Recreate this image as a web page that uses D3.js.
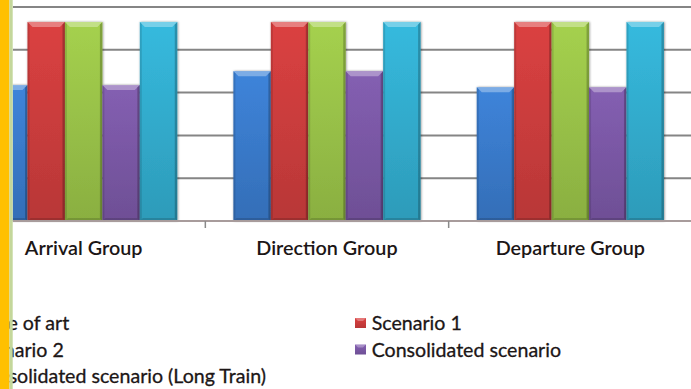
<!DOCTYPE html>
<html>
<head>
<meta charset="utf-8">
<script src="https://cdn.jsdelivr.net/npm/d3@7/dist/d3.min.js"></script>
<style>
  html, body { margin: 0; padding: 0; background: #fff; }
  svg { display: block; }
</style>
</head>
<body>
<script>
// Chart data
const categories = ["Arrival Group", "Direction Group", "Departure Group"];
const seriesNames = ["State of art", "Scenario 1", "Scenario 2", "Consolidated scenario", "Consolidated scenario (Long Train)"];
const stateOfArt = [63.5, 70, 62.5];
const scenario1 = [93, 93, 93];
const scenario2 = [93, 93, 93];
const consolidated = [63.5, 70, 62.5];
const consolidatedLongTrain = [93, 93, 93];
const yTicks = [0, 20, 40, 60, 80, 100];

const seriesValues = [stateOfArt, scenario1, scenario2, consolidated, consolidatedLongTrain];
const seriesColors = ["#3b7dcf", "#d03e3e", "#9cc64a", "#7d5aa9", "#33b0d2"];

const W = 691, H = 389;
const plotLeft = 12.7, baseY = 221, topY = 7;
const fontFamily = "Lato, 'Open Sans', sans-serif";
const textColor = "#1c1616";

const svg = d3.select("body").append("svg").attr("width", W).attr("height", H);
svg.append("rect").attr("width", W).attr("height", H).attr("fill", "#fff");

const defs = svg.append("defs");
const shadow = defs.append("filter").attr("id", "barShadow")
  .attr("x", "-20%").attr("y", "-5%").attr("width", "140%").attr("height", "110%");
shadow.append("feDropShadow").attr("dx", 0.6).attr("dy", 0).attr("stdDeviation", 1.1)
  .attr("flood-color", "#000").attr("flood-opacity", 0.45);

seriesColors.forEach((c, i) => {
  const g = defs.append("linearGradient").attr("id", "grad" + i)
    .attr("x1", 0).attr("y1", 0).attr("x2", 0).attr("y2", 1);
  g.append("stop").attr("offset", "0%").attr("stop-color", d3.color(c).brighter(0.15));
  g.append("stop").attr("offset", "100%").attr("stop-color", d3.color(c).darker(0.35));
});

const x0 = d3.scaleBand().domain(categories).range([-38, 692]);
const x1 = d3.scaleBand().domain(seriesNames).range([0, x0.bandwidth()])
  .paddingInner(0).paddingOuter(0.75);
const y = d3.scaleLinear().domain([0, 100]).range([baseY, topY]);

const plot = svg.append("g");
plot.append("clipPath").attr("id", "plotClip")
  .append("rect").attr("x", plotLeft).attr("y", 0).attr("width", W - plotLeft).attr("height", H);

// Horizontal gridlines
plot.append("g").attr("clip-path", "url(#plotClip)")
  .selectAll("line").data(yTicks.filter(t => t > 0)).join("line")
  .attr("x1", plotLeft).attr("x2", W)
  .attr("y1", d => y(d)).attr("y2", d => y(d))
  .attr("stroke", "#858585").attr("stroke-width", 2);

// Bars with a bevelled face
const bevel = 5;
const barLayer = plot.append("g").attr("clip-path", "url(#plotClip)");
categories.forEach((cat, ci) => {
  seriesNames.forEach((s, si) => {
    const v = seriesValues[si][ci];
    const bx = x0(cat) + x1(s), bw = x1.bandwidth();
    const by = y(v), bh = y(0) - y(v);
    const g = barLayer.append("g");
    g.append("rect").attr("x", bx).attr("y", by).attr("width", bw).attr("height", bh)
      .attr("fill", `url(#grad${si})`).attr("filter", "url(#barShadow)");
    // top highlight
    g.append("polygon")
      .attr("points", [[bx, by], [bx + bw, by], [bx + bw - bevel, by + bevel], [bx + bevel, by + bevel]].join(" "))
      .attr("fill", "#fff").attr("opacity", 0.33);
    // left edge
    g.append("polygon")
      .attr("points", [[bx, by], [bx + 2, by + 2], [bx + 2, by + bh - 2], [bx, by + bh]].join(" "))
      .attr("fill", "#000").attr("opacity", 0.12);
    // right edge
    g.append("polygon")
      .attr("points", [[bx + bw, by], [bx + bw - 2.5, by + 2.5], [bx + bw - 2.5, by + bh - 2.5], [bx + bw, by + bh]].join(" "))
      .attr("fill", "#000").attr("opacity", 0.22);
    // bottom edge
    g.append("polygon")
      .attr("points", [[bx, by + bh], [bx + 3, by + bh - 3], [bx + bw - 3, by + bh - 3], [bx + bw, by + bh]].join(" "))
      .attr("fill", "#000").attr("opacity", 0.15);
  });
});

// Category axis
const xAxisG = svg.append("g");
xAxisG.append("line").attr("x1", plotLeft).attr("x2", W).attr("y1", baseY).attr("y2", baseY)
  .attr("stroke", "#a89c9c").attr("stroke-width", 2);
xAxisG.selectAll("line.tick").data(categories.slice(1)).join("line").attr("class", "tick")
  .attr("x1", d => x0(d)).attr("x2", d => x0(d))
  .attr("y1", baseY).attr("y2", baseY + 7)
  .attr("stroke", "#8a8a8a").attr("stroke-width", 1.5);
xAxisG.selectAll("text").data(categories).join("text")
  .attr("x", d => x0(d) + x0.bandwidth() / 2).attr("y", 255)
  .attr("text-anchor", "middle")
  .attr("font-family", fontFamily).attr("font-size", 19.8)
  .attr("font-weight", 600).attr("fill", textColor)
  .text(d => d);

// Legend in two columns
const legendColX = [-43, 355];
const legendRowY = [330, 356.5, 383];
const legend = svg.append("g");
seriesNames.forEach((s, i) => {
  const col = i % 2, row = Math.floor(i / 2);
  const lx = legendColX[col], ly = legendRowY[row];
  const mg = legend.append("g");
  mg.append("rect").attr("x", lx).attr("y", ly - 12).attr("width", 11).attr("height", 10)
    .attr("fill", `url(#grad${i})`);
  mg.append("polygon")
    .attr("points", [[lx, ly - 12], [lx + 11, ly - 12], [lx + 8, ly - 9], [lx + 3, ly - 9]].join(" "))
    .attr("fill", "#fff").attr("opacity", 0.3);
  mg.append("text").attr("x", lx + 16.7).attr("y", ly)
    .attr("font-family", fontFamily).attr("font-size", 19.6)
    .attr("fill", textColor).attr("stroke", textColor).attr("stroke-width", 0.3)
    .text(s);
});

// Side strip along the left edge
svg.append("rect").attr("x", 0).attr("y", 0).attr("width", 9.5).attr("height", H).attr("fill", "#ffc000");
svg.append("rect").attr("x", 9.5).attr("y", 0).attr("width", 3.2).attr("height", H).attr("fill", "#c4d79b");
</script>
</body>
</html>
